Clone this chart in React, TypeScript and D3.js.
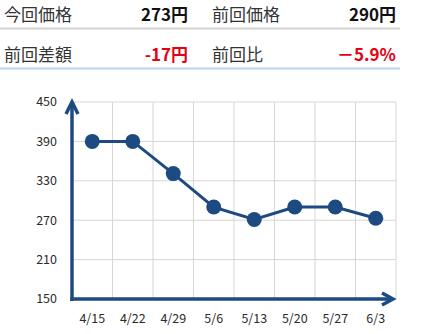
import React from "react";
import * as d3 from "d3";

const dates = ["4/15", "4/22", "4/29", "5/6", "5/13", "5/20", "5/27", "6/3"];
const prices = [390, 390, 341, 290, 271, 290, 290, 273];
const yTicks = [150, 210, 270, 330, 390, 450];
const summaryRow1 = [
  { label: "今回価格", value: "273円", color: "#111" },
  { label: "前回価格", value: "290円", color: "#111" },
];
const summaryRow2 = [
  { label: "前回差額", value: "-17円", color: "#e60012" },
  { label: "前回比", value: "－5.9%", color: "#e60012" },
];

const NAVY = "#1d4a80";
const FONT = "'Noto Sans CJK JP', 'Noto Sans', sans-serif";

export default function App() {
  const W = 428, H = 334;
  const left = 72, right = 396, top = 102, bottom = 299;
  const x = d3.scaleBand<string>().domain(dates).range([left, right]).paddingInner(0).paddingOuter(0);
  const y = d3.scaleLinear().domain([150, 450]).range([bottom, top]);
  const line = d3
    .line<number>()
    .x((_, i) => (x(dates[i]) as number) + x.bandwidth() / 2)
    .y((d) => y(d));

  const rows = [summaryRow1, summaryRow2];
  const rowY = [15, 55];
  const colX = [4, 212];
  const colRight = [188, 396];

  return (
    <svg
      width={W}
      height={H}
      style={{ position: "absolute", left: 0, top: 0, background: "#fff" }}
      fontFamily={FONT}
    >
      {rows.map((row, ri) =>
        row.map((c, ci) => (
          <g key={`${ri}-${ci}`}>
            <text x={colX[ci]} y={rowY[ri]} dy="0.35em" fontSize={17} fill="#333">
              {c.label}
            </text>
            <text
              x={colRight[ci]}
              y={rowY[ri]}
              dy="0.35em"
              fontSize={17}
              fontWeight="bold"
              fill={c.color}
              textAnchor="end"
            >
              {c.value}
            </text>
          </g>
        ))
      )}
      <line x1={0} x2={400} y1={28.5} y2={28.5} stroke="#d4d4d4" strokeWidth={2} />
      <line x1={0} x2={400} y1={68.5} y2={68.5} stroke="#bcd3ec" strokeWidth={2} />

      {/* grid */}
      {yTicks.map((t) => (
        <line key={t} x1={left} x2={right} y1={y(t)} y2={y(t)} stroke="#d6d6d6" strokeWidth={1} />
      ))}
      {dates.map((d) => (
        <line
          key={d}
          x1={(x(d) as number) + x.bandwidth()}
          x2={(x(d) as number) + x.bandwidth()}
          y1={top}
          y2={bottom}
          stroke="#d6d6d6"
          strokeWidth={1}
        />
      ))}

      {/* y labels */}
      {yTicks.map((t) => (
        <text key={t} x={57} y={y(t)} dy="0.35em" fontSize={12.5} fill="#2b2b2b" textAnchor="end">
          {t}
        </text>
      ))}
      {/* x labels */}
      {dates.map((d) => (
        <text
          key={d}
          x={(x(d) as number) + x.bandwidth() / 2}
          y={319}
          dy="0.35em"
          fontSize={12.5}
          fill="#2b2b2b"
          textAnchor="middle"
        >
          {d}
        </text>
      ))}

      {/* axes */}
      <line x1={left} x2={left} y1={bottom + 2} y2={top} stroke={NAVY} strokeWidth={3.5} />
      <polyline
        points={`${left - 6},${top + 12} ${left},${top} ${left + 6},${top + 12}`}
        fill="none"
        stroke={NAVY}
        strokeWidth={3.5}
        strokeLinejoin="miter"
      />
      <line x1={left - 1.75} x2={393} y1={bottom} y2={bottom} stroke={NAVY} strokeWidth={3.5} />
      <polyline
        points={`382,${bottom - 6} 393,${bottom} 382,${bottom + 6}`}
        fill="none"
        stroke={NAVY}
        strokeWidth={3.5}
      />

      {/* series */}
      <path d={line(prices) || ""} fill="none" stroke={NAVY} strokeWidth={3} />
      {prices.map((p, i) => (
        <circle
          key={i}
          cx={(x(dates[i]) as number) + x.bandwidth() / 2}
          cy={y(p)}
          r={7.5}
          fill={NAVY}
        />
      ))}
    </svg>
  );
}
